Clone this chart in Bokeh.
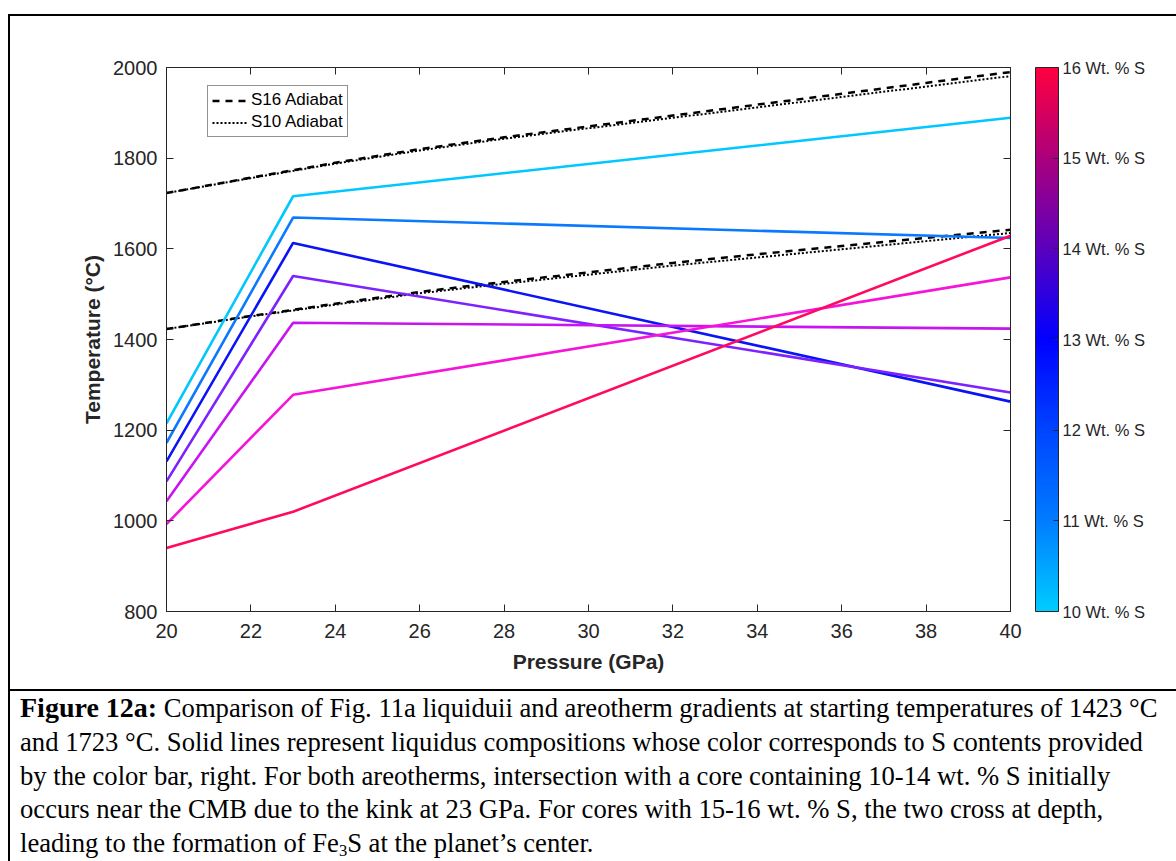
from bokeh.plotting import figure
from bokeh.layouts import column, row
from bokeh.models import (LinearAxis, FixedTicker, ColorBar, LinearColorMapper, Legend,
                          LegendItem, Range1d, CustomJSTickFormatter, Spacer, Div)
from bokeh.embed import file_html
from bokeh.resources import INLINE

# ---------------- data ----------------
pressure_liq = [20, 23, 40]
liq_10 = [1215, 1716, 1889]
liq_11 = [1172, 1669, 1624]
liq_12 = [1131, 1613, 1263]
liq_13 = [1087, 1540, 1283]
liq_14 = [1043, 1437, 1424]
liq_15 = [993, 1278, 1537]
liq_16 = [940, 1020, 1629]
liq_series = [liq_10, liq_11, liq_12, liq_13, liq_14, liq_15, liq_16]
liq_colors = ["#00C8FF", "#0A78FF", "#0A14F5", "#7D22FF", "#C814F0", "#F514D7", "#FF0A5F"]

pressure_ad = [20, 22, 24, 26, 28, 30, 32, 34, 36, 38, 40]
s16_hot = [1723, 1757, 1790, 1820, 1846, 1870, 1894, 1918, 1942, 1966, 1990]
s10_hot = [1723, 1756, 1788, 1817, 1843, 1866, 1889, 1912, 1935, 1958, 1981]
s16_cold = [1423, 1452, 1479, 1505, 1527, 1548, 1569, 1588, 1606, 1624, 1642]
s10_cold = [1423, 1451, 1477, 1502, 1523, 1543, 1563, 1581, 1599, 1617, 1635]

x_ticks = [20, 22, 24, 26, 28, 30, 32, 34, 36, 38, 40]
y_ticks = [800, 1000, 1200, 1400, 1600, 1800, 2000]
cb_ticks = [10, 11, 12, 13, 14, 15, 16]

caption_bold = "Figure 12a:"
caption_lines = [
    "Comparison of Fig. 11a liquiduii and areotherm gradients at starting temperatures of 1423 \u00b0C",
    "and 1723 \u00b0C. Solid lines represent liquidus compositions whose color corresponds to S contents provided",
    "by the color bar, right. For both areotherms, intersection with a core containing 10-14 wt. % S initially",
    "occurs near the CMB due to the kink at 23 GPa. For cores with 15-16 wt. % S, the two cross at depth,",
    "leading to the formation of Fe\u2083S at the planet\u2019s center.",
]

# colour bar palette (styling)
cb_anchor_vals = [10, 11, 12, 13, 14, 15, 16]
cb_anchor_rgb = [(0, 204, 255), (0, 124, 255), (0, 68, 255), (0, 0, 255),
                 (90, 0, 190), (170, 0, 125), (255, 0, 64)]
palette = []
N = 256
for i in range(N):
    v = 10 + 6 * i / (N - 1)
    for k in range(len(cb_anchor_vals) - 1):
        if v <= cb_anchor_vals[k + 1] or k == len(cb_anchor_vals) - 2:
            t = (v - cb_anchor_vals[k]) / (cb_anchor_vals[k + 1] - cb_anchor_vals[k])
            a, b = cb_anchor_rgb[k], cb_anchor_rgb[k + 1]
            c = tuple(int(round(a[j] + (b[j] - a[j]) * t)) for j in range(3))
            palette.append("#%02x%02x%02x" % c)
            break

AX = "#262626"
FONT = "Liberation Sans"


def strip(w, h):
    return Div(text="", width=w, height=h, margin=0, styles={"background-color": "black"})


def gap(w, h):
    return Spacer(width=w, height=h, margin=0)


# ---------------- chart ----------------
p = figure(width=1166, height=673, x_range=Range1d(20, 40), y_range=Range1d(800, 2000),
           output_backend="svg", toolbar_location=None, margin=0,
           min_border_left=156, min_border_right=166, min_border_top=51, min_border_bottom=78,
           outline_line_color=AX, background_fill_color="white", border_fill_color="white")
p.grid.visible = False

for ax, ticks in ((p.xaxis, x_ticks), (p.yaxis, y_ticks)):
    ax.ticker = FixedTicker(ticks=ticks)
    ax.major_tick_in = 7
    ax.major_tick_out = 0
    ax.minor_tick_line_color = None
    ax.axis_line_color = AX
    ax.major_tick_line_color = AX
    ax.major_label_text_font = FONT
    ax.major_label_text_font_size = "20px"
    ax.major_label_text_color = AX
    ax.axis_label_text_font = FONT
    ax.axis_label_text_font_size = "21px"
    ax.axis_label_text_font_style = "bold"
    ax.axis_label_text_color = AX
p.xaxis.axis_label = "Pressure (GPa)"
p.yaxis.axis_label = "Temperature (\u00b0C)"
p.xaxis.major_label_standoff = 12
p.yaxis.major_label_standoff = 9
p.xaxis.axis_label_standoff = 9
p.yaxis.axis_label_standoff = 6

top_ax = LinearAxis(ticker=FixedTicker(ticks=x_ticks), major_tick_in=7, major_tick_out=0,
                    minor_tick_line_color=None, axis_line_color=AX, major_tick_line_color=AX,
                    major_label_text_color=None, major_label_text_font_size="1px",
                    major_label_standoff=0)
right_ax = LinearAxis(ticker=FixedTicker(ticks=y_ticks), major_tick_in=7, major_tick_out=0,
                      minor_tick_line_color=None, axis_line_color=AX, major_tick_line_color=AX,
                      major_label_text_color=None, major_label_text_font_size="1px",
                      major_label_standoff=0)
p.add_layout(top_ax, "above")
p.add_layout(right_ax, "right")

# adiabats
r16h = p.line(pressure_ad, s16_hot, line_color="black", line_width=2.5, line_dash="7 6")
r10h = p.line(pressure_ad, s10_hot, line_color="black", line_width=2, line_dash="2 2")
p.line(pressure_ad, s16_cold, line_color="black", line_width=2.5, line_dash="7 6")
p.line(pressure_ad, s10_cold, line_color="black", line_width=2, line_dash="2 2")

# liquidus lines
for ys, col in zip(liq_series, liq_colors):
    p.line(pressure_liq, ys, line_color=col, line_width=2.6)

legend = Legend(items=[LegendItem(label="S16 Adiabat", renderers=[r16h]),
                       LegendItem(label="S10 Adiabat", renderers=[r10h])],
                location=(41, 474), orientation="vertical",
                label_text_font=FONT, label_text_font_size="17px", label_text_color="black",
                glyph_width=36, glyph_height=19, label_height=19, label_standoff=3,
                padding=4, spacing=2, margin=0,
                border_line_color=AX, border_line_width=1, background_fill_color="white",
                background_fill_alpha=1)
p.add_layout(legend)

mapper = LinearColorMapper(palette=palette, low=10, high=16)
cb = ColorBar(color_mapper=mapper, ticker=FixedTicker(ticks=cb_ticks),
              formatter=CustomJSTickFormatter(code="return tick.toFixed(0) + ' Wt. % S'"),
              width=23, height=544, padding=0, margin=0, label_standoff=4,
              location=(25, 0),
              major_label_text_font=FONT, major_label_text_font_size="16.5px",
              major_label_text_color=AX, major_tick_line_color=AX, major_tick_in=5,
              minor_tick_line_color=None, bar_line_color=AX, bar_line_width=1)
p.add_layout(cb, "right")

# ---------------- caption ----------------
cap_lines_html = [s.replace("\u2083", "<sub style='font-size:0.62em;vertical-align:-0.25em'>3</sub>")
                  for s in caption_lines]
cap_html = (
    "<div style=\"font-family:'Liberation Serif','Times New Roman',serif;font-size:26.65px;"
    "line-height:33.75px;white-space:nowrap;color:black;padding-left:10px;margin:0;\">"
    "<b style='font-size:28px'>" + caption_bold + "</b> " + "<br>".join(cap_lines_html) + "</div>"
)
cap = Div(text=cap_html, width=1166, height=170, margin=0)

# ---------------- page ----------------
page = column(
    gap(1176, 14),
    row(gap(8, 847), strip(2, 847),
        column(strip(1166, 2), p, strip(1166, 2), cap, margin=0), margin=0),
    margin=0,
)

open("out.html", "w").write(file_html(page, INLINE))
